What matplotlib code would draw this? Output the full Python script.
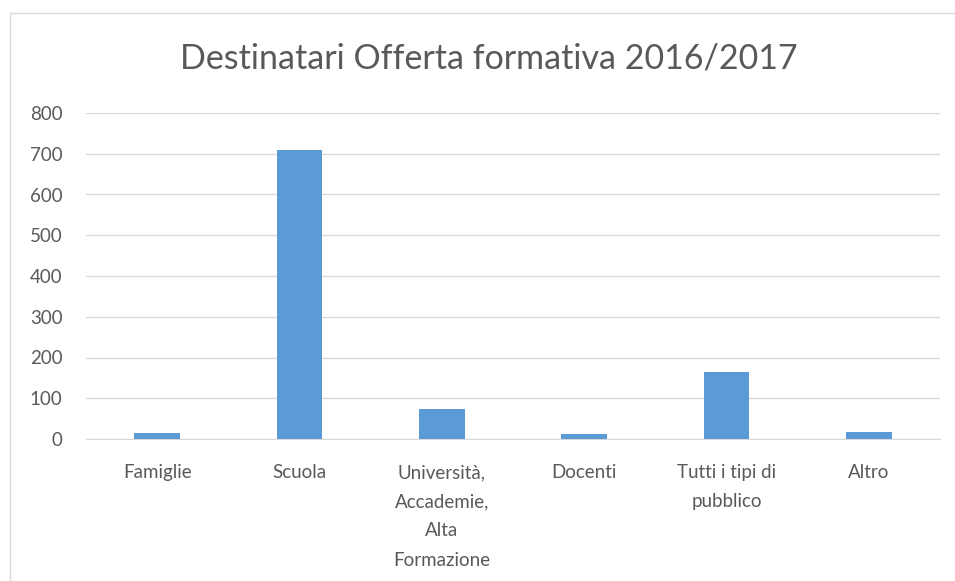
import matplotlib.pyplot as plt
from matplotlib.patches import Rectangle

categories = ["Famiglie", "Scuola", "Università,\nAccademie,\nAlta\nFormazione",
              "Docenti", "Tutti i tipi di\npubblico", "Altro"]
values = [15, 710, 74, 13, 165, 18]
yticks = [0, 100, 200, 300, 400, 500, 600, 700, 800]

plt.rcParams['font.family'] = ['Lato', 'DejaVu Sans']
text_col = "#595959"

fig = plt.figure(figsize=(9.55, 5.81), dpi=100)
fig.patches.append(Rectangle((10 / 955, -0.01), 1.0, 1 - 13 / 581 + 0.01,
                             transform=fig.transFigure, fill=False,
                             edgecolor="#D9D9D9", lw=1))
ax = fig.add_axes([86 / 955, 1 - 439 / 581, (940 - 86) / 955, (439 - 113) / 581])

x = range(len(categories))
ax.bar(x, values, width=0.32, color="#5B9BD5", zorder=3)
ax.set_xlim(-0.5, len(categories) - 0.5)
ax.set_ylim(0, 800)
ax.set_yticks(yticks)
ax.set_xticks(list(x))
ax.set_xticklabels(categories, linespacing=1.87, va="top")
ax.tick_params(axis="both", length=0, labelsize=13.5, colors=text_col)
ax.tick_params(axis="x", pad=18)
ax.tick_params(axis="y", pad=17)
ax.grid(axis="y", color="#D9D9D9", lw=1, zorder=0)
for s in ["top", "right", "left"]:
    ax.spines[s].set_visible(False)
ax.spines["bottom"].set_color("#D9D9D9")

fig.text(489 / 955, 1 - 58 / 581, "Destinatari Offerta formativa 2016/2017",
         ha="center", va="center", fontsize=24.5, color=text_col)

fig.savefig("out.png", dpi=100)
